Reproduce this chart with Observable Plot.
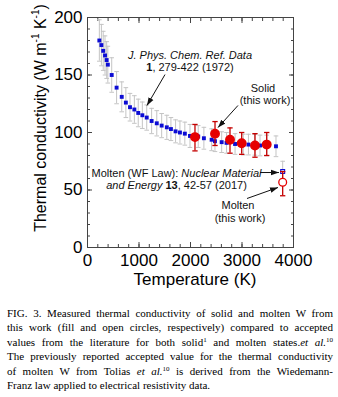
<!DOCTYPE html>
<html><head><meta charset="utf-8">
<script src="https://cdn.jsdelivr.net/npm/d3@7"></script>
<script src="https://cdn.jsdelivr.net/npm/@observablehq/plot@0.6"></script>
<style>
body{margin:0;background:#fff;}
#chart svg{display:block;}
#cap{font-family:"Liberation Serif","Times New Roman",serif;font-size:11px;line-height:14.4px;color:#000;padding:0 5px 0 7px;margin-top:6px;}
#cap div{text-align:justify;text-align-last:justify;}
#cap div.last{text-align:left;text-align-last:left;}
#cap sup{font-size:7px;line-height:0;vertical-align:baseline;position:relative;top:-4px;}
</style>
</head><body>
<div id="chart"></div>
<div id="cap">
<div>FIG. 3. Measured thermal conductivity of solid and molten W from</div>
<div>this work (fill and open circles, respectively) compared to accepted</div>
<div>values from the literature for both solid<sup>1</sup> and molten states.<i>et al.</i><sup>10</sup></div>
<div>The previously reported accepted value for the thermal conductivity</div>
<div>of molten W from Tolias <i>et al.</i><sup>10</sup> is derived from the Wiedemann-</div>
<div class="last">Franz law applied to electrical resistivity data.</div>
</div>
<script>
// Literature (solid) recommended values, J. Phys. Chem. Ref. Data (1972)
const blueT = [230, 270, 305, 340, 372, 395, 470, 565, 665, 745, 825, 910, 985, 1065, 1150, 1245, 1345, 1440, 1540, 1620, 1710, 1795, 1890, 1990, 2150, 2260, 2410, 2475, 2605, 2700, 2865, 3025, 3125, 3250, 3350, 3480, 3660];
const blueK = [180, 176, 171, 167, 163, 159, 150, 139, 131, 126, 122, 120, 117, 115, 113, 110, 108, 106, 104.5, 103, 101, 100, 99, 97, 96.5, 95, 93.7, 92.4, 91.6, 91, 90, 89.5, 89.5, 89.3, 88.7, 88.7, 88];
const blueErr = [18, 18, 17, 17, 16, 16, 15, 14, 13, 13, 12, 12, 12, 11.5, 11, 11, 11, 10.5, 10.5, 10, 10, 10, 10, 10, 9.5, 9.5, 9.5, 9, 9, 9, 9, 9, 9, 9, 9, 9, 9];

// Solid, this work
const redT = [2087, 2476, 2767, 2994, 3252, 3480];
const redK = [96, 99, 93.7, 90.7, 88.7, 89.5];
const redLo = [84, 88.7, 82, 81, 78.5, 80];
const redHi = [107, 109.5, 104, 100, 99, 100];

// Molten, this work (open circle) and WF-law value (Tolias et al.)
const moltenT = [3790], moltenK = [56.8], moltenLo = [45], moltenHi = [66];
const wfT = [3790], wfK = [66], wfLo = [58], wfHi = [75];

// Axis ticks
const xMajor = [0, 1000, 2000, 3000, 4000];
const xMinor = d3.range(0, 4001, 200);
const yMajor = [0, 50, 100, 150, 200];
const yMinor = d3.range(0, 201, 10);

// Annotations
const annoText = ["J. Phys. Chem. Ref. Data", "1, 279-422 (1972)", "Solid", "(this work)", "Molten (WF Law): Nuclear Material", "and Energy 13, 42-57 (2017)", "Molten", "(this work)"];
const annoX = [1990, 1990, 3408, 3447, 1728, 1728, 2922, 2961];
const annoY = [167, 156.5, 138.3, 127.8, 64.3, 53.9, 36.5, 25.2];
const arrowX1 = [1505, 2922, 3350, 3097];
const arrowY1 = [150.4, 123.5, 65.2, 42.6];
const arrowX2 = [1155, 2534, 3718, 3699];
const arrowY2 = [123.5, 104.3, 65.2, 52.2];

const blue = blueT.map((T, i) => ({T, k: blueK[i], lo: blueK[i] - blueErr[i], hi: blueK[i] + blueErr[i]}));
const red = redT.map((T, i) => ({T, k: redK[i], lo: redLo[i], hi: redHi[i]}));
const molten = moltenT.map((T, i) => ({T, k: moltenK[i], lo: moltenLo[i], hi: moltenHi[i]}));
const wf = wfT.map((T, i) => ({T, k: wfK[i], lo: wfLo[i], hi: wfHi[i]}));
const anno = annoText.map((t, i) => ({t, x: annoX[i], y: annoY[i]}));
const arrows = arrowX1.map((x1, i) => ({x1, y1: arrowY1[i], x2: arrowX2[i], y2: arrowY2[i]}));

const cap = {draw(ctx, size) { const w = Math.sqrt(size) / 2; ctx.moveTo(-w, 0); ctx.lineTo(w, 0); }};
const gray = "#c4c4c4", dred = "#c40000", bred = "#e60000", bblue = "#0c0cd4";

function errMarks(data, color, capR, sw) {
  return [
    Plot.ruleX(data, {x: "T", y1: "lo", y2: "hi", stroke: color, strokeWidth: sw}),
    Plot.dot(data, {x: "T", y: "lo", symbol: cap, r: capR, stroke: color, strokeWidth: sw, fill: "none"}),
    Plot.dot(data, {x: "T", y: "hi", symbol: cap, r: capR, stroke: color, strokeWidth: sw, fill: "none"})
  ];
}

const tickAxes = [];
for (const a of ["bottom", "top"]) {
  tickAxes.push(Plot.axisX({anchor: a, ticks: xMinor, tickSize: -3, fill: "none", label: null, stroke: "#444"}));
  tickAxes.push(Plot.axisX({anchor: a, ticks: xMajor, tickSize: -5, fill: "none", label: null, stroke: "#444"}));
}
for (const a of ["left", "right"]) {
  tickAxes.push(Plot.axisY({anchor: a, ticks: yMinor, tickSize: -3, fill: "none", label: null, stroke: "#444"}));
  tickAxes.push(Plot.axisY({anchor: a, ticks: yMajor, tickSize: -5, fill: "none", label: null, stroke: "#444"}));
}

const svg = Plot.plot({
  width: 338, height: 300,
  marginLeft: 87, marginRight: 45, marginTop: 17, marginBottom: 53,
  x: {domain: [0, 4000]},
  y: {domain: [0, 200]},
  style: {fontFamily: "'Liberation Sans', Arial, sans-serif", background: "white", color: "#000"},
  marks: [
    Plot.frame({stroke: "#444", strokeWidth: 1}),
    ...tickAxes,
    Plot.axisX({ticks: xMajor, tickSize: 0, tickPadding: 6, fontSize: 17, label: null, tickFormat: d => String(d)}),
    Plot.axisY({ticks: yMajor, tickSize: 0, tickPadding: 5, fontSize: 17, label: null, tickFormat: d => String(d)}),
    ...errMarks(blue, gray, 2.6, 1),
    Plot.dot(blue, {x: "T", y: "k", symbol: "square", r: 2.2, fill: bblue, stroke: "none"}),
    ...errMarks(wf, gray, 2.6, 1),
    Plot.dot(wf, {x: "T", y: "k", symbol: "square", r: 2.2, fill: "white", stroke: bblue, strokeWidth: 1.1}),
    ...errMarks(red, dred, 3, 1.3),
    Plot.dot(red, {x: "T", y: "k", r: 4.2, fill: bred, stroke: bred}),
    ...errMarks(molten, dred, 3, 1.3),
    Plot.dot(molten, {x: "T", y: "k", r: 3.9, fill: "white", stroke: bred, strokeWidth: 1.3}),
    Plot.link(arrows, {x1: "x1", y1: "y1", x2: "x2", y2: "y2", stroke: "#111", strokeWidth: 1}),
    Plot.text(anno, {x: "x", y: "y", text: "t", fontSize: 11, fill: "#111"})
  ]
});

const s = d3.select(svg);
// arrowheads
const defs = s.insert("defs", ":first-child");
defs.append("marker").attr("id", "ah").attr("viewBox", "0 0 10 10").attr("refX", 10).attr("refY", 5)
  .attr("markerWidth", 8).attr("markerHeight", 8).attr("orient", "auto").attr("markerUnits", "userSpaceOnUse")
  .append("path").attr("d", "M0,1.5L10,5L0,8.5Z").attr("fill", "#111");
s.selectAll('g[aria-label="link"] path').attr("marker-end", "url(#ah)");

// rich text in annotations
const rich = {
  "J. Phys. Chem. Ref. Data": [["J. Phys. Chem. Ref. Data", "italic", "normal"]],
  "1, 279-422 (1972)": [["1", "normal", "bold"], [", 279-422 (1972)", "normal", "normal"]],
  "Molten (WF Law): Nuclear Material": [["Molten (WF Law): ", "normal", "normal"], ["Nuclear Material", "italic", "normal"]],
  "and Energy 13, 42-57 (2017)": [["and Energy ", "italic", "normal"], ["13", "normal", "bold"], [", 42-57 (2017)", "normal", "normal"]]
};
s.selectAll('g[aria-label="text"] text').each(function() {
  const parts = rich[this.textContent];
  if (!parts) return;
  const t = d3.select(this);
  t.text(null);
  t.style("white-space", "pre");
  for (const [str, st, wt] of parts) t.append("tspan").text(str).attr("font-style", st).attr("font-weight", wt);
});

// axis titles
const yl = s.append("text").attr("transform", "translate(46,118) rotate(-90)").attr("text-anchor", "middle")
  .attr("font-size", 16).attr("fill", "#000");
yl.append("tspan").text("Thermal conductivity (W m");
yl.append("tspan").text("-1").attr("font-size", 10).attr("dy", -7);
yl.append("tspan").text(" K").attr("dy", 7);
yl.append("tspan").text("-1").attr("font-size", 10).attr("dy", -7);
yl.append("tspan").text(")").attr("dy", 7);
s.append("text").attr("x", 195).attr("y", 285).attr("text-anchor", "middle").attr("font-size", 17)
  .attr("fill", "#000").text("Temperature (K)");

document.getElementById("chart").appendChild(svg);
</script>
</body></html>
